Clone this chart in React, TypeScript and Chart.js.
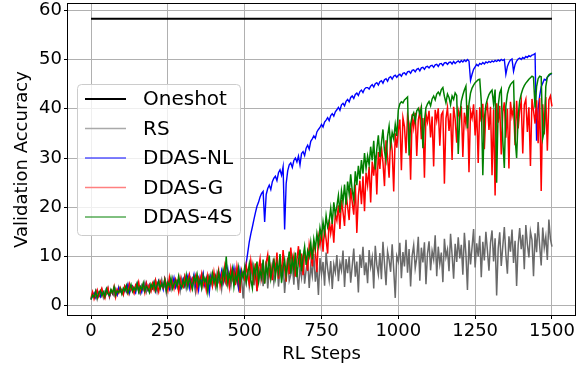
import React, { useEffect, useRef } from 'react';
import { Chart, registerables } from 'chart.js';

Chart.register(...registerables);

// RL steps sampled every 5 steps (0..1500)
const STEP = 5;
const STEPS: number[] = Array.from({ length: 301 }, (_, i) => i * STEP);

const ONESHOT_STEPS = [0, 1500];
const ONESHOT = [58.3, 58.3];

const RS = [
  1.2, 2.5, 1.9, 3.0, 1.4, 2.7, 2.1, 3.3, 1.7, 2.9, 2.4, 3.6, 1.8, 3.1, 2.6, 2.0, 3.4, 2.3, 3.8, 2.8,
  3.2, 2.2, 3.9, 2.9, 4.3, 2.5, 3.5, 4.0, 2.7, 3.7, 4.5, 3.0, 2.4, 4.1, 3.3, 4.7, 2.8, 3.9, 4.4, 3.1,
  4.2, 3.4, 5.0, 2.9, 4.6, 3.8, 5.3, 3.6, 4.4, 2.6, 5.1, 4.0, 3.2, 5.6, 4.3, 3.7, 5.2, 4.8, 3.0, 5.5,
  4.1, 5.8, 3.5, 4.9, 6.0, 3.9, 5.4, 4.5, 2.8, 6.1, 4.7, 5.2, 3.6, 6.3, 4.2, 5.7, 3.3, 5.0, 6.4, 4.6,
  5.3, 3.8, 6.5, 4.9, 5.8, 3.4, 6.7, 5.1, 4.4, 7.0, 5.6, 3.9, 6.2, 4.8, 7.2, 5.0, 3.5, 6.6, 5.4, 1.5,
  6.4, 4.6, 7.5, 3.8, 5.9, 8.1, 4.2, 6.8, 2.9, 7.7, 5.3, 8.6, 4.0, 6.5, 9.0, 3.5, 7.2, 5.6, 8.3, 4.7,
  6.9, 9.2, 3.9, 7.4, 5.5, 8.8, 2.6, 7.0, 9.6, 5.1, 6.3, 8.5, 4.3, 9.9, 6.6, 3.2, 8.0, 5.8, 10.2, 4.5,
  7.3, 9.4, 3.6, 8.2, 6.1, 10.5, 4.9, 7.8, 2.2, 9.7, 6.4, 8.9, 4.1, 10.8, 7.5, 5.2, 9.1, 3.4, 8.4, 6.8,
  10.3, 5.0, 8.7, 7.2, 11.2, 3.8, 9.5, 6.6, 10.0, 4.7, 8.1, 11.6, 5.9, 9.0, 2.7, 10.4, 7.7, 12.0, 6.2, 8.8,
  4.6, 11.3, 7.9, 9.8, 3.5, 12.2, 8.3, 6.4, 10.7, 5.4, 13.0, 8.6, 4.2, 11.0, 9.3, 6.9, 12.5, 7.4, 1.6, 10.1,
  9.0, 12.8, 5.6, 10.9, 8.0, 13.4, 6.7, 11.5, 3.9, 10.2, 12.3, 7.6, 9.7, 14.0, 5.1, 11.8, 8.8, 12.9, 4.4, 10.6,
  13.1, 7.2, 11.1, 9.4, 14.3, 6.0, 12.0, 8.5, 10.8, 4.8, 13.6, 9.9, 11.4, 7.0, 14.6, 10.3, 5.5, 12.6, 8.9, 13.9,
  9.6, 12.4, 6.3, 14.8, 10.5, 3.2, 13.3, 8.4, 11.9, 15.6, 7.8, 12.7, 10.0, 14.2, 5.8, 13.0, 9.2, 15.0, 11.2, 7.1,
  12.8, 15.3, 9.0, 13.7, 2.1, 11.6, 14.9, 8.1, 12.1, 16.0, 10.4, 6.5, 14.1, 11.0, 15.5, 8.7, 13.2, 4.0, 12.3, 15.8,
  11.5, 14.4, 7.4, 16.4, 12.5, 9.8, 15.1, 13.4, 6.0, 14.7, 10.9, 17.0, 12.2, 8.2, 15.9, 11.8, 14.0, 9.3, 17.5, 13.6,
  12.0,
];

const DDAS_NL = [
  1.4, 2.0, 2.6, 1.7, 3.0, 2.3, 1.8, 3.2, 2.5, 2.1, 3.4, 2.7, 1.9, 3.0, 2.4, 3.5, 2.8, 2.2, 3.6, 2.9,
  3.3, 2.5, 3.8, 3.0, 4.2, 2.7, 3.6, 4.0, 3.1, 2.6, 4.4, 3.5, 3.9, 2.8, 4.3, 3.4, 4.6, 3.2, 3.8, 4.1,
  3.5, 4.7, 3.0, 4.3, 5.1, 3.7, 4.5, 3.3, 5.4, 4.0, 4.6, 3.4, 5.2, 4.2, 5.7, 3.8, 4.9, 5.3, 3.6, 4.5,
  5.5, 4.0, 5.0, 6.1, 3.7, 5.6, 4.6, 6.3, 4.1, 5.2, 3.2, 5.9, 4.8, 6.5, 4.3, 5.4, 6.0, 2.8, 5.7, 4.4,
  6.2, 5.0, 4.2, 6.9, 5.6, 7.1, 4.7, 6.3, 5.3, 7.4, 4.4, 6.6, 5.8, 7.7, 4.9, 6.1, 3.9, 7.3, 5.5, 6.7,
  7.2, 8.6, 10.8, 13.0, 14.6, 16.0, 17.5, 18.9, 20.2, 21.0, 22.1, 22.8, 23.2, 17.0, 22.6, 23.8, 24.5, 23.6, 25.2, 25.9,
  26.3, 25.4, 27.0, 27.6, 26.5, 28.2, 15.5, 24.8, 27.4, 28.6, 29.0, 28.1, 29.5, 30.0, 29.2, 30.4, 28.6, 30.9, 31.3, 30.5,
  32.0, 32.6, 31.8, 33.4, 33.9, 34.5, 34.0, 35.3, 35.8, 36.2, 36.8, 36.3, 37.3, 37.7, 38.2, 37.6, 38.6, 39.0, 38.5, 39.4,
  39.8, 40.3, 39.7, 40.8, 41.1, 40.6, 41.5, 41.9, 41.4, 42.3, 42.6, 42.1, 42.9, 43.2, 42.7, 43.5, 43.8, 43.3, 44.0, 44.3,
  44.3, 44.0, 44.6, 44.9, 44.4, 45.1, 45.3, 44.8, 45.5, 45.7, 45.2, 45.9, 46.1, 45.6, 46.3, 46.5, 46.0, 46.6, 46.8, 46.4,
  46.8, 47.0, 46.6, 47.2, 47.3, 46.9, 47.5, 47.6, 47.2, 47.8, 47.9, 47.5, 48.0, 48.2, 47.7, 48.3, 48.4, 48.0, 48.5, 48.6,
  48.3, 48.7, 48.8, 48.4, 48.9, 49.0, 48.6, 49.1, 49.2, 48.8, 49.3, 49.4, 49.0, 49.4, 49.5, 49.1, 49.6, 49.2, 49.5, 49.7,
  49.4, 49.8, 49.5, 49.9, 49.6, 50.0, 49.7, 45.8, 47.0, 48.0, 48.5, 49.0, 48.7, 49.2, 49.0, 49.4, 49.1, 49.5, 49.3, 49.6,
  49.4, 49.7, 49.5, 49.8, 49.6, 49.9, 49.7, 50.0, 49.8, 50.0, 47.0, 48.6, 49.4, 49.9, 50.1, 47.6, 49.0, 49.7, 50.1, 50.3,
  50.0, 50.4, 50.2, 50.6, 50.4, 50.8, 50.6, 50.9, 51.0, 51.2, 33.5, 40.0, 42.6, 44.5, 45.2, 46.0, 45.8, 46.4, 46.7, 47.0,
  47.2,
];

const DDAS_G = [
  1.6, 2.8, 1.4, 2.3, 3.2, 1.9, 2.7, 3.5, 2.2, 1.5, 2.9, 3.6, 2.0, 3.1, 2.5, 3.9, 1.8, 3.3, 2.6, 3.7,
  3.0, 2.3, 4.0, 3.4, 2.5, 4.4, 3.2, 3.8, 2.6, 4.2, 3.5, 4.8, 2.9, 3.7, 4.3, 2.7, 4.6, 3.4, 4.1, 3.0,
  4.5, 3.3, 5.2, 3.9, 2.8, 5.0, 4.1, 3.6, 5.5, 4.4, 3.1, 5.8, 4.0, 4.9, 3.5, 5.4, 4.6, 2.9, 5.7, 4.2,
  3.8, 5.9, 4.4, 5.1, 6.3, 3.6, 5.5, 4.7, 6.0, 3.3, 5.7, 4.9, 6.5, 4.1, 5.3, 3.2, 6.2, 4.8, 5.6, 4.0,
  6.8, 4.5, 5.9, 7.3, 4.1, 6.4, 5.0, 7.8, 4.8, 6.6, 3.9, 7.5, 5.5, 6.9, 4.2, 8.0, 5.8, 2.6, 7.2, 6.1,
  5.4, 8.2, 6.0, 4.4, 9.1, 6.8, 5.1, 8.6, 3.0, 7.4, 9.5, 5.7, 7.9, 4.6, 8.8, 10.4, 6.3, 8.0, 5.2, 9.6,
  7.0, 10.8, 5.5, 8.9, 6.7, 11.3, 7.6, 4.9, 9.8, 6.4, 11.8, 8.3, 10.1, 5.9, 9.2, 12.1, 7.8, 10.6, 6.2, 11.0,
  9.5, 7.1, 12.4, 10.3, 8.0, 13.2, 10.9, 6.8, 14.0, 12.2, 15.4, 11.0, 16.1, 13.5, 10.6, 17.5, 14.7, 16.9, 12.8, 18.6,
  17.3, 20.4, 15.6, 21.5, 19.0, 16.2, 22.8, 20.1, 17.4, 23.9, 21.0, 18.5, 24.6, 14.8, 22.3, 25.4, 20.6, 26.3, 19.2, 27.0,
  24.5, 28.2, 21.0, 29.3, 26.4, 30.5, 22.6, 31.2, 27.8, 32.4, 29.1, 24.3, 33.6, 30.2, 26.0, 34.3, 31.5, 23.2, 35.0, 32.1,
  35.6, 37.8, 27.5, 38.2, 36.4, 31.0, 38.6, 37.0, 25.6, 38.9, 36.2, 39.2, 30.4, 37.7, 39.5, 33.8, 38.1, 26.0, 39.0, 37.3,
  39.6, 34.2, 38.4, 28.3, 39.8, 37.6, 40.1, 32.5, 38.8, 39.4, 24.8, 38.0, 40.2, 35.5, 39.1, 29.6, 40.4, 37.9, 33.1, 39.7,
  38.3, 40.5, 30.2, 39.2, 36.8, 40.7, 27.1, 39.5, 38.1, 40.9, 34.6, 39.8, 29.0, 40.3, 37.4, 41.0, 31.8, 39.6, 40.8, 35.7,
  40.4, 26.5, 39.9, 22.4, 41.1, 37.2, 40.6, 30.7, 39.3, 41.3, 34.1, 40.0, 27.9, 41.4, 38.5, 40.2, 32.6, 41.6, 36.0, 39.7,
  41.5, 30.9, 40.8, 41.9, 35.3, 40.3, 28.4, 42.0, 39.6, 37.0, 41.7, 33.0, 42.2, 23.3, 40.9, 34.8, 42.4, 31.5, 41.8, 42.6,
  40.5,
];

const DDAS_4S = [
  1.3, 2.2, 1.8, 2.9, 1.6, 2.5, 3.1, 2.0, 2.8, 1.9, 3.4, 2.4, 2.1, 3.3, 2.6, 3.8, 2.2, 3.0, 2.7, 3.5,
  2.4, 3.6, 3.0, 4.1, 2.6, 3.4, 4.3, 2.9, 3.7, 3.1, 4.5, 2.8, 3.9, 3.3, 4.6, 3.0, 4.0, 3.5, 2.7, 4.4,
  3.6, 4.8, 3.1, 4.2, 5.0, 3.4, 4.5, 3.8, 5.3, 3.2, 4.7, 4.0, 5.6, 3.5, 4.4, 5.1, 3.9, 6.0, 4.3, 3.6,
  5.2, 4.1, 6.2, 3.9, 5.5, 4.6, 3.4, 5.9, 4.8, 6.4, 4.2, 5.3, 3.7, 6.1, 4.9, 5.6, 2.9, 5.8, 4.5, 6.6,
  4.7, 6.0, 3.8, 6.8, 5.1, 4.3, 7.2, 5.5, 10.0, 4.6, 6.5, 5.2, 7.4, 3.9, 6.3, 5.0, 7.6, 4.4, 6.9, 5.7,
  7.8, 4.8, 6.6, 8.5, 5.3, 3.6, 7.9, 6.2, 9.0, 4.9, 7.1, 5.8, 9.4, 4.5, 8.1, 6.4, 10.2, 5.6, 7.5, 9.1,
  5.9, 8.7, 6.8, 10.5, 4.7, 7.7, 9.3, 6.1, 8.4, 11.0, 6.5, 9.6, 7.2, 10.8, 5.8, 9.0, 11.4, 7.0, 9.9, 12.0,
  8.3, 11.2, 10.0, 12.8, 9.4, 13.5, 11.6, 14.6, 12.4, 15.8, 13.9, 17.0, 14.8, 18.3, 16.0, 17.2, 19.8, 16.6, 21.0, 18.5,
  20.2, 22.4, 18.9, 23.3, 21.1, 24.6, 20.5, 25.2, 22.8, 26.7, 23.4, 21.6, 27.3, 24.5, 28.4, 25.7, 29.6, 26.8, 31.0, 27.9,
  30.4, 28.6, 32.3, 29.5, 33.5, 27.7, 31.8, 34.6, 30.2, 33.0, 35.8, 31.4, 29.6, 34.4, 36.5, 32.7, 35.2, 33.9, 36.8, 34.5,
  39.8, 41.0, 41.4, 41.2, 41.8, 42.1, 42.4, 30.5, 36.8, 38.5, 39.2, 37.4, 39.6, 40.1, 38.9, 40.3, 32.0, 37.5, 40.2, 41.0,
  41.5, 40.6, 42.0, 42.6, 41.8, 43.0, 43.4, 42.8, 43.9, 44.3, 42.5, 41.2, 43.0, 42.3, 40.8, 42.6, 41.9, 43.2, 42.7, 30.8,
  38.5, 41.5, 42.8, 43.8, 44.6, 36.0, 41.0, 43.2, 44.2, 44.8, 45.3, 45.6, 45.9, 46.0, 41.5, 26.5, 38.0, 40.8, 42.0, 42.9,
  43.4, 43.8, 41.0, 43.9, 25.0, 40.6, 43.2, 44.0, 33.5, 28.0, 40.5, 43.0, 44.2, 44.9, 45.3, 45.6, 34.0, 30.0, 38.5, 41.6,
  43.0, 44.0, 44.7, 45.2, 45.6, 46.0, 46.3, 46.6, 46.4, 40.2, 44.5, 46.1, 46.6, 46.5, 34.0, 35.5, 44.5, 46.4, 46.9, 47.1,
  47.2,
];

const X_TICKS = [0, 250, 500, 750, 1000, 1250, 1500];
const Y_TICKS = [0, 10, 20, 30, 40, 50, 60];
const LABELS = ['Oneshot', 'RS', 'DDAS-NL', 'DDAS-G', 'DDAS-4S'];
const X_TITLE = 'RL Steps';
const Y_TITLE = 'Validation Accuracy';

const FONT = '"DejaVu Sans", sans-serif';

export default function App() {
  const ref = useRef<HTMLCanvasElement>(null);

  useEffect(() => {
    if (!ref.current) return;
    const toXY = (ys: number[], xs: number[] = STEPS) => ys.map((y, i) => ({ x: xs[i], y }));

    const series = [
      { label: LABELS[0], data: toXY(ONESHOT, ONESHOT_STEPS), color: '#000000', width: 2, order: 5 },
      { label: LABELS[1], data: toXY(RS), color: '#696969', width: 1.5, order: 4 },
      { label: LABELS[2], data: toXY(DDAS_NL), color: '#0000ff', width: 1.4, order: 3 },
      { label: LABELS[3], data: toXY(DDAS_G), color: '#ff0000', width: 1.5, order: 2 },
      { label: LABELS[4], data: toXY(DDAS_4S), color: '#008000', width: 1.5, order: 1 },
    ];

    const legendItems = [
      { label: LABELS[0], color: '#000000', width: 2 },
      { label: LABELS[1], color: '#a9a9a9', width: 1.5 },
      { label: LABELS[2], color: '#0000ff', width: 1 },
      { label: LABELS[3], color: '#ff8080', width: 1.5 },
      { label: LABELS[4], color: '#008000', width: 1 },
    ];

    const frameAndLegend = {
      id: 'frameAndLegend',
      afterDatasetsDraw(chart: any) {
        const { ctx, chartArea: a } = chart;
        ctx.save();
        ctx.strokeStyle = '#000';
        ctx.lineWidth = 1;
        ctx.strokeRect(a.left - 0.5, a.top - 0.5, a.right - a.left + 1, a.bottom - a.top + 1);

        const bx = a.left + 9;
        const by = a.top + 80;
        const bw = 163;
        const bh = 151;
        ctx.beginPath();
        if (ctx.roundRect) ctx.roundRect(bx + 0.5, by + 0.5, bw, bh, 4);
        else ctx.rect(bx + 0.5, by + 0.5, bw, bh);
        ctx.fillStyle = 'rgba(255,255,255,0.8)';
        ctx.fill();
        ctx.strokeStyle = '#cccccc';
        ctx.lineWidth = 1;
        ctx.stroke();

        legendItems.forEach((it, i) => {
          const y = by + 15 + i * 29.5;
          ctx.beginPath();
          ctx.moveTo(bx + 8, y);
          ctx.lineTo(bx + 49, y);
          ctx.strokeStyle = it.color;
          ctx.lineWidth = it.width;
          ctx.stroke();
          ctx.fillStyle = '#000';
          ctx.font = `20px ${FONT}`;
          ctx.textBaseline = 'middle';
          ctx.textAlign = 'left';
          ctx.fillText(it.label, bx + 66, y + 1);
        });
        ctx.restore();
      },
    };

    const gridOpts = {
      color: '#b0b0b0',
      lineWidth: 1,
      tickColor: '#000000',
      tickLength: 4,
      tickWidth: 1,
      drawTicks: true,
    };

    const chart = new Chart(ref.current, {
      type: 'line',
      data: {
        datasets: series.map((s) => ({
          label: s.label,
          data: s.data,
          borderColor: s.color,
          backgroundColor: s.color,
          borderWidth: s.width,
          pointRadius: 0,
          tension: 0,
          fill: false,
          order: s.order,
        })),
      },
      options: {
        animation: false,
        responsive: false,
        devicePixelRatio: 1,
        layout: { padding: { left: 0, right: 12, top: 4, bottom: 0 } },
        plugins: { legend: { display: false }, tooltip: { enabled: false } },
        scales: {
          x: {
            type: 'linear',
            min: -75,
            max: 1575,
            afterBuildTicks: (s: any) => {
              s.ticks = X_TICKS.map((v) => ({ value: v }));
            },
            afterFit: (s: any) => {
              s.height = 51;
              s.paddingLeft = 0;
              s.paddingRight = 0;
              s.paddingTop = 0;
              s.paddingBottom = 0;
            },
            grid: gridOpts,
            border: { display: false },
            ticks: {
              color: '#000',
              font: { family: FONT, size: 18 },
              padding: 2,
              maxRotation: 0,
              autoSkip: false,
              callback: (v: any) => String(v),
            },
            title: {
              display: true,
              text: X_TITLE,
              color: '#000',
              font: { family: FONT, size: 18 },
              padding: { top: 0, bottom: 1 },
            },
          },
          y: {
            type: 'linear',
            min: -1.87,
            max: 61.27,
            afterBuildTicks: (s: any) => {
              s.ticks = Y_TICKS.map((v) => ({ value: v }));
            },
            afterFit: (s: any) => {
              s.width = 68;
              s.paddingLeft = 0;
              s.paddingRight = 0;
              s.paddingTop = 0;
              s.paddingBottom = 0;
            },
            grid: gridOpts,
            border: { display: false },
            ticks: {
              color: '#000',
              font: { family: FONT, size: 18 },
              padding: 2,
              autoSkip: false,
              callback: (v: any) => String(v),
            },
            title: {
              display: true,
              text: Y_TITLE,
              color: '#000',
              font: { family: FONT, size: 18 },
              padding: { top: 12, bottom: 0 },
            },
          },
        },
      },
      plugins: [frameAndLegend],
    } as any);

    return () => chart.destroy();
  }, []);

  return (
    <div style={{ position: 'absolute', left: 0, top: 0, width: 587, height: 366, background: '#fff' }}>
      <canvas ref={ref} width={587} height={366} style={{ display: 'block', width: 587, height: 366 }} />
    </div>
  );
}
